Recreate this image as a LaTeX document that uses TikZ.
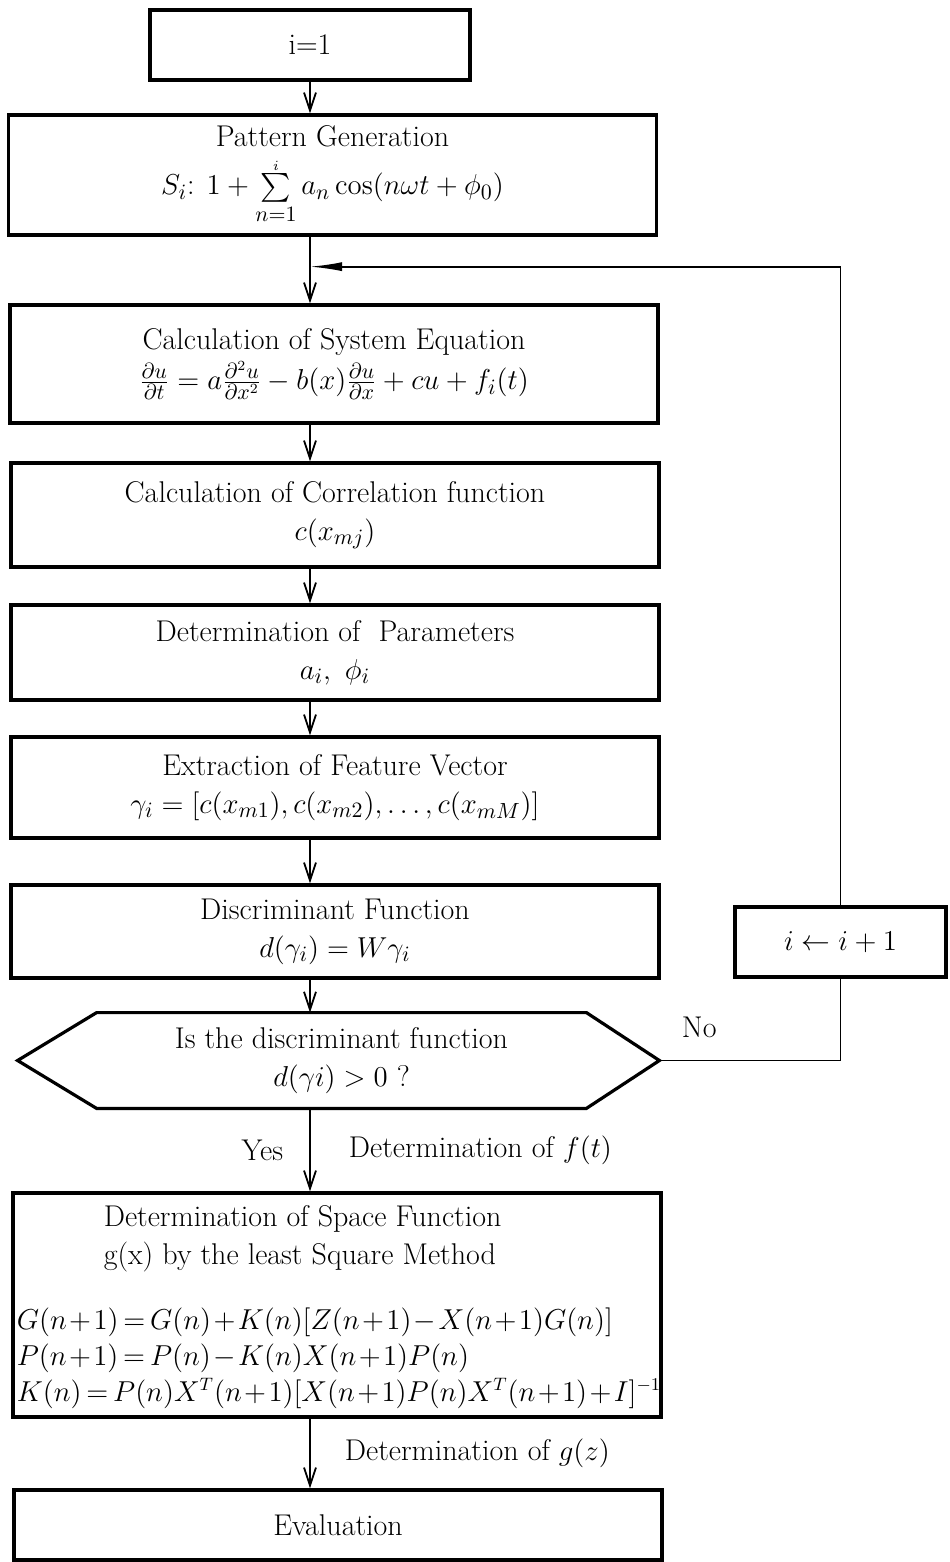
\documentclass[tikz,border=0pt]{standalone}
\usepackage{amsmath}
\usetikzlibrary{arrows.meta,positioning,calc}
\tikzset{
  procbox/.style={rectangle, draw, line width=1.6pt, align=center,
    minimum width=324pt, inner sep=2pt, font=\fontsize{15}{19}\selectfont},
  plain/.style={align=center, inner sep=2pt, font=\fontsize{15}{19}\selectfont},
  flow/.style={-{Straight Barb[length=9pt,width=6pt]}, line width=0.9pt},
  back/.style={-{Latex[length=16pt,width=4.5pt]}, line width=0.9pt},
  wire/.style={line width=0.9pt},
  tag/.style={font=\fontsize{15}{18}\selectfont, inner sep=1pt},
}

\begin{document}
\begin{tikzpicture}[x=0.5pt, y=-0.5pt]
\useasboundingbox (0,0) rectangle (949,1562);

% main column
\node[procbox, minimum width=160pt, minimum height=35pt] (init) at (310,45) {i=1};
\node[procbox, minimum height=60pt] (pat) at (332.5,175)
  {Pattern Generation\\[5pt]
   $S_i$: $1+\sum\limits_{n=1}^{\raisebox{-2pt}{$\scriptscriptstyle i$}} a_n\cos(n\omega t+\phi_0)$};
\node[procbox, minimum height=59pt] (sys) at (334,364)
  {Calculation of System Equation\\[1pt]
   $\frac{\partial u}{\partial t} = a\frac{\partial^2 u}{\partial x^2}
    - b(x)\frac{\partial u}{\partial x} + cu + f_i(t)$};
\node[procbox, minimum height=52pt] (cor) at (335,515)
  {Calculation of Correlation function\\ $c(x_{mj})$};
\node[procbox, minimum height=47.5pt] (par) at (335,652.5)
  {Determination of \ Parameters\\ $a_i,\ \phi_i$};
\node[procbox, minimum height=50.5pt] (fea) at (335,787.5)
  {Extraction of Feature Vector\\
   $\gamma_i = [c(x_{m1}), c(x_{m2}), \ldots, c(x_{mM})]$};
\node[procbox, minimum height=46.5pt] (dis) at (335,931.5)
  {Discriminant Function\\ $d(\gamma_i) = W\gamma_i$};

% decision: text node, hexagon drawn round it
\node[plain, minimum width=244.5pt, minimum height=47.5pt] (dec) at (341.5,1060.5)
  {Is the discriminant function\\ $d(\gamma i) > 0$ ?};
\coordinate (decL) at ([xshift=-39.5pt]dec.west);
\coordinate (decR) at ([xshift=36.5pt]dec.east);
\draw[line width=1.6pt] (dec.north west) -- (dec.north east) -- (decR)
  -- (dec.south east) -- (dec.south west) -- (decL) -- cycle;

% least squares box
\node[procbox, minimum height=112pt] (spa) at (337,1305) {};
\node[plain, align=left, anchor=north west] (spaT)
  at ([xshift=44pt, yshift=-5pt]spa.north west)
  {Determination of Space Function\\ g(x) by the least Square Method};
\node[plain, align=left, anchor=south west,
      font={\fontsize{13.5}{18}\selectfont\thickmuskip=3mu\relax\medmuskip=1.5mu\relax}] (spaE)
  at ([xshift=0.5pt, yshift=3pt]spa.south west)
  {$G(n+1) = G(n) + K(n)[Z(n+1) - X(n+1)G(n)]$\\
   $P(n+1) = P(n) - K(n)X(n+1)P(n)$\\
   $K(n) = P(n)X^T(n+1)[X(n+1)P(n)X^T(n+1) + I]^{-1}$};
\node[procbox, minimum height=35pt] (eva) at (338,1525) {Evaluation};

% increment box on the right
\node[procbox, minimum width=105.5pt, minimum height=35pt] (inc) at (840.5,942)
  {$i \leftarrow i+1$};

% connectors
\coordinate (loop) at ($(pat.south)!0.45!(sys.north)$);
\draw[flow] (init.south) -- (init.south |- pat.north);
\draw[wire] (init.south |- pat.south) -- (init.south |- loop);
\draw[flow] (init.south |- loop) -- (init.south |- sys.north);
\draw[flow] (init.south |- sys.south) -- (init.south |- cor.north);
\draw[flow] (init.south |- cor.south) -- (init.south |- par.north);
\draw[flow] (init.south |- par.south) -- (init.south |- fea.north);
\draw[flow] (init.south |- fea.south) -- (init.south |- dis.north);
\draw[flow] (init.south |- dis.south) -- (init.south |- dec.north);
\draw[flow] (init.south |- dec.south) -- (init.south |- spa.north)
  node[tag, pos=0.5, left=12pt] {Yes}
  node[tag, pos=0.5, right=18pt] {Determination of $f(t)$};
\draw[flow] (init.south |- spa.south) -- (init.south |- eva.north)
  node[tag, pos=0.5, right=16pt] {Determination of $g(z)$};

% feedback loop
\draw[wire] (decR) -- (decR -| inc.south)
  node[tag, pos=0.22, above=10pt] {No} -- (inc.south);
\draw[back] (inc.north) -- (inc.north |- loop) -- (init.south |- loop);

\end{tikzpicture}
\end{document}
